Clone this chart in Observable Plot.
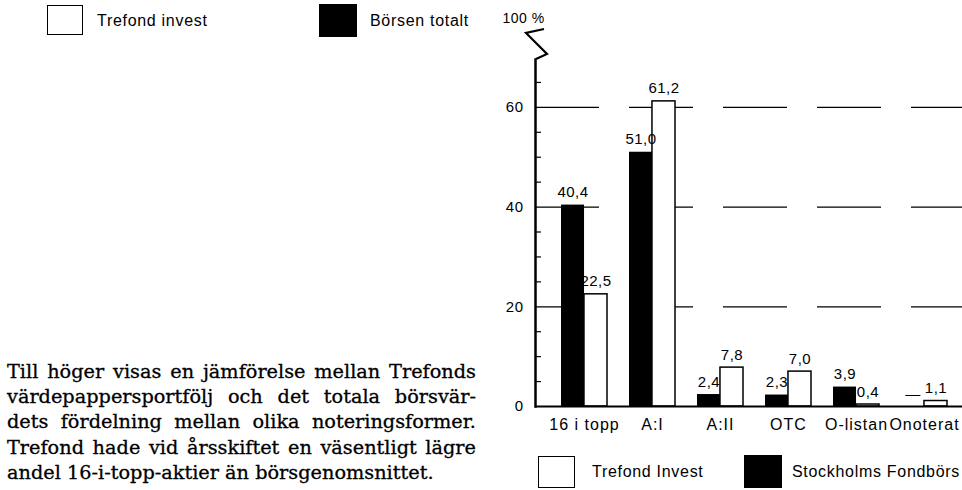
<!DOCTYPE html>
<html>
<head>
<meta charset="utf-8">
<script src="https://cdn.jsdelivr.net/npm/d3@7"></script>
<script src="https://cdn.jsdelivr.net/npm/@observablehq/plot@0.6"></script>
<style>
  html, body { margin: 0; padding: 0; background: #fff; overflow: hidden; }
  body { width: 962px; height: 490px; position: relative; font-family: "Liberation Sans", Arial, sans-serif; color: #000; }
  #chart { position: absolute; left: 0; top: 0; }
  #chart svg text { letter-spacing: 0.5px; }
  #chart svg g[aria-label="x-axis tick label"] text { letter-spacing: 1px; }
  .box { position: absolute; border: 1.5px solid #000; box-sizing: border-box; }
  .box.black { background: #000; }
  .lg { position: absolute; font-size: 16px; letter-spacing: 0.7px; white-space: nowrap; line-height: 1; }
  #para { position: absolute; left: 7px; top: 359px; width: 469px; font-family: "DejaVu Serif", serif; font-size: 19.3px; line-height: 25.2px; color: #000; -webkit-text-stroke: 0.3px #000; }
  #para div { text-align: justify; text-align-last: justify; white-space: nowrap; }
  #para div.last { text-align-last: left; }
</style>
</head>
<body>
<div id="chart"></div>

<div class="box" style="left:47px; top:5px; width:36px; height:30px;"></div>
<div class="lg" style="left:97px; top:13px;">Trefond invest</div>
<div class="box black" style="left:319px; top:4px; width:38px; height:33px;"></div>
<div class="lg" style="left:370px; top:13px;">Börsen totalt</div>

<div class="box" style="left:538px; top:456px; width:37px; height:32px;"></div>
<div class="lg" style="left:592px; top:464px;">Trefond Invest</div>
<div class="box black" style="left:744px; top:455px; width:38px; height:33px;"></div>
<div class="lg" style="left:792px; top:464px;">Stockholms Fondbörs</div>

<div id="para">
  <div>Till höger visas en jämförelse mellan Trefonds</div>
  <div>värdepappersportfölj och det totala börsvär-</div>
  <div>dets fördelning mellan olika noteringsformer.</div>
  <div>Trefond hade vid årsskiftet en väsentligt lägre</div>
  <div class="last">andel 16-i-topp-aktier än börsgenomsnittet.</div>
</div>

<script>
const categories = ["16 i topp", "A:I", "A:II", "OTC", "O-listan", "Onoterat"];
const borsen = [40.4, 51.0, 2.4, 2.3, 3.9, 0];
const trefond = [22.5, 61.2, 7.8, 7.0, 0.4, 1.1];
const yTicks = [0, 20, 40, 60];
const minorTicks = [5, 10, 15, 25, 30, 35, 45, 50, 55, 65];
const yTop = 69.6;

const rows = categories.map((c, i) => ({cat: c, borsen: borsen[i], trefond: trefond[i]}));
const fmt = v => v === 0 ? "—" : v.toFixed(1).replace(".", ",");

const xRange = [535, 973];
const pIn = 0.33, pOut = 0.36;
const step = (xRange[1] - xRange[0]) / (categories.length - pIn + 2 * pOut);
const bw = step * (1 - pIn);

const plot = Plot.plot({
  width: 962,
  height: 490,
  marginLeft: 535,
  marginRight: 0,
  marginTop: 59,
  marginBottom: 84,
  style: {fontFamily: "Liberation Sans, Arial, sans-serif", fontSize: "15px", color: "#000", background: "transparent"},
  x: {domain: categories, range: xRange, paddingInner: pIn, paddingOuter: pOut, label: null},
  y: {domain: [0, yTop], label: null},
  marks: [
    Plot.ruleY([20, 40, 60], {stroke: "#000", strokeWidth: 1.2, strokeDasharray: "64,30"}),
    Plot.barY(rows, {x: "cat", y: "borsen", fill: "#000", insetRight: bw / 2}),
    Plot.barY(rows, {x: "cat", y: "trefond", fill: "#fff", stroke: "#000", strokeWidth: 1.5, insetLeft: bw / 2}),
    Plot.text(rows, {x: "cat", y: "borsen", text: d => fmt(d.borsen), dx: -bw / 4, dy: -8, lineAnchor: "bottom", fontSize: 15}),
    Plot.text(rows, {x: "cat", y: "trefond", text: d => fmt(d.trefond), dx: bw / 4, dy: -8, lineAnchor: "bottom", fontSize: 15}),
    Plot.ruleY([0], {stroke: "#000", strokeWidth: 2}),
    Plot.frame({anchor: "left", stroke: "#000", strokeWidth: 2.5}),
    Plot.axisY({ticks: minorTicks, tickSize: -6, text: null, stroke: "#000", strokeWidth: 1.2}),
    Plot.axisY({ticks: yTicks, tickSize: 0, tickPadding: 12, fontSize: 15, tickFormat: d => d}),
    Plot.axisX({tickSize: 0, tickPadding: 12, fontSize: 16}),
    Plot.text(["100 %"], {frameAnchor: "top-left", dx: -12, dy: -46, text: d => d, textAnchor: "middle", fontSize: 14})
  ]
});
document.getElementById("chart").appendChild(plot);

// axis break zigzag above the y axis
const yScale = plot.scale("y");
const yAxisTop = yScale.apply(yTop);
const x0 = 535;
d3.select(plot).append("path")
  .attr("d", `M${x0 + 1},${yAxisTop} L${x0 + 12},${yAxisTop - 5} L${x0 - 9},${yAxisTop - 26} L${x0 + 9},${yAxisTop - 30}`)
  .attr("fill", "none").attr("stroke", "#000").attr("stroke-width", 2.2);
</script>
</body>
</html>
